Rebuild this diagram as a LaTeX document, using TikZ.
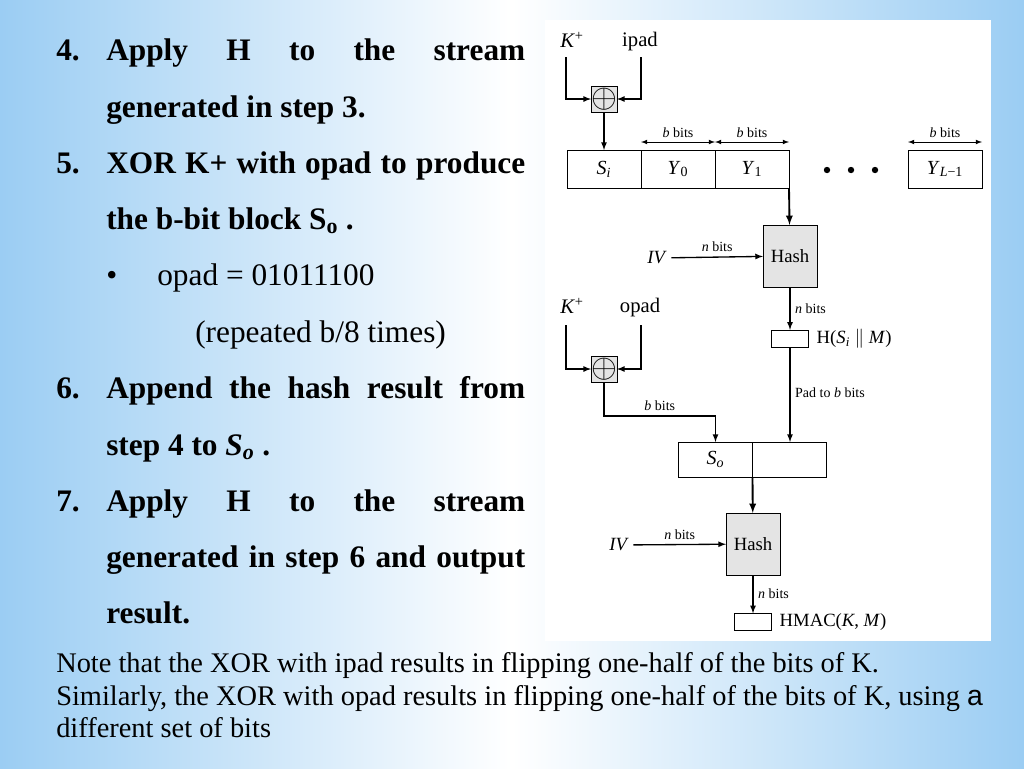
\documentclass[tikz,border=0pt]{standalone}
\usepackage{fontspec}
\setmainfont{Liberation Serif}
\newfontfamily\notesans{Liberation Sans}
\usetikzlibrary{positioning,calc}
\definecolor{slideblue}{RGB}{155,205,243}
\definecolor{hashgray}{RGB}{228,228,228}

\begin{document}
\begin{tikzpicture}[x=0.75pt,y=-0.75pt,
				block/.style={draw,rectangle,outer sep=0pt,inner sep=0pt,node distance=0pt,minimum width=55.5pt,minimum height=28.5pt,font=\fontsize{15}{17}\selectfont},
				xorbox/.style={draw,rectangle,fill=hashgray,outer sep=0pt,inner sep=0pt,minimum width=18pt,minimum height=19.5pt,font=\fontsize{25}{26}\selectfont},
				hashbox/.style={draw,rectangle,fill=hashgray,outer sep=0pt,minimum width=40.5pt,minimum height=46.5pt,font=\fontsize{14}{16}\selectfont},
				outbox/.style={draw,rectangle,outer sep=0pt,inner sep=0pt,minimum width=28pt,minimum height=13pt},
				keylbl/.style={font=\fontsize{15.5}{17}\selectfont},
				bitlbl/.style={font=\fontsize{10.5}{12}\selectfont},
				midlbl/.style={font=\fontsize{14}{16}\selectfont},
				item/.style={anchor=base west,inner sep=0pt,font=\fontsize{23.5}{28}\selectfont\bfseries},
				plain/.style={anchor=base west,inner sep=0pt,font=\fontsize{23.5}{28}\selectfont},
				note/.style={anchor=base west,inner sep=0pt,font=\fontsize{21.3}{25}\selectfont},
				arr/.style={-latex,line width=1pt},
				dimarr/.style={latex-latex,line width=0.6pt}]
				\useasboundingbox (0,0) rectangle (1024,768);
				\shade[left color=slideblue,right color=slideblue,middle color=white] (0,0) rectangle (1024,768);
				\fill[white] (545,20) rectangle (991,641);
				
				% steps on the left
				\node[item] (n4)  at (56,60)   {4.};
				\node[item] (s4a) at (106,60)  {\makebox[314.25pt][s]{Apply H to the stream}};
				\node[item] (s4b) at (106,117) {generated in step 3.};
				\node[item] (n5)  at (56,173)  {5.};
				\node[item] (s5a) at (106,173) {\makebox[314.25pt][s]{XOR K+ with opad to produce}};
				\node[item] (s5b) at (106,229) {the b-bit block S\textsubscript{o} .};
				\node[plain] (dot) at (106,285) {•};
				\node[plain] (opadval) at (157,285) {opad = 01011100};
				\node[plain] (rep) at (195,342) {(repeated b/8 times)};
				\node[item] (n6)  at (56,398)  {6.};
				\node[item] (s6a) at (106,398) {\makebox[314.25pt][s]{Append the hash result from}};
				\node[item] (s6b) at (106,455) {step 4 to \textit{S\textsubscript{o}} .};
				\node[item] (n7)  at (56,511)  {7.};
				\node[item] (s7a) at (106,511) {\makebox[314.25pt][s]{Apply H to the stream}};
				\node[item] (s7b) at (106,567) {\makebox[314.25pt][s]{generated in step 6 and output}};
				\node[item] (s7c) at (106,623) {result.};
				
				% note at the bottom
				\node[note] (nt1) at (56,672) {Note that the XOR with ipad results in flipping one-half of the bits of K.};
				\node[note] (nt2) at (56,705) {Similarly, the XOR with opad results in flipping one-half of the bits of K, using {\notesans a}};
				\node[note] (nt3) at (56,737) {different set of bits};
				
				% inner hash
				\node[keylbl] (kp1)   at (572,40) {\textit{K}\textsuperscript{+}};
				\node[keylbl] (ipad)  at (640,42) {ipad};
				\node[xorbox] (xor1)  at (604,99) {$\oplus$};
				\coordinate (kin1) at (566,57);
				\coordinate (pin1) at (641,57);
				\draw[arr] (kin1) |- (xor1.west);
				\draw[arr] (pin1) |- (xor1.east);
				
				\node[block] (si)    at (604,169)  {\textit{S\textsubscript{i}}};
				\node[block] (y0)    [right=of si] {\textit{Y}\textsubscript{0}};
				\node[block] (y1)    [right=of y0] {\textit{Y}\textsubscript{1}};
				\node[block] (ylast) at (945,169)  {\textit{Y}\textsubscript{\textit{L}−1}};
				\foreach \dx in {827,851,875}
					\fill (\dx,170) circle (2.4pt);
				\draw[arr] (xor1) -- (si);
				\draw[dimarr] ([yshift=6pt]y0.north west) -- ([yshift=6pt]y0.north east) node[bitlbl,midway,above] {\textit{b} bits};
				\draw[dimarr] ([yshift=6pt]y1.north west) -- ([yshift=6pt]y1.north east) node[bitlbl,midway,above] {\textit{b} bits};
				\draw[dimarr] ([yshift=6pt]ylast.north west) -- ([yshift=6pt]ylast.north east) node[bitlbl,midway,above] {\textit{b} bits};
				
				\node[hashbox] (hash1) at (790,256) {Hash};
				\node[midlbl] (iv1) at (657,258) {\textit{IV}};
				\draw[arr,line width=1.4pt] (y1.south east) -- (hash1);
				\draw[arr] (iv1) -- (hash1) node[bitlbl,midway,above] {\textit{n} bits};
				\node[outbox] (hout1) at (790,338.5) {};
				\node[midlbl,right=2.5pt of hout1] (hlab) {H(\textit{S\textsubscript{i}} $\Vert$ \textit{M})};
				\draw[arr] (hash1) -- (hout1) node[bitlbl,midway,right] {\textit{n} bits};
				
				% outer hash
				\node[keylbl] (kp2)  at (572,306) {\textit{K}\textsuperscript{+}};
				\node[keylbl] (opad) at (640,308) {opad};
				\node[xorbox] (xor2) at (604,369) {$\oplus$};
				\coordinate (kin2) at (566,325);
				\coordinate (pin2) at (641,325);
				\draw[arr] (kin2) |- (xor2.west);
				\draw[arr] (pin2) |- (xor2.east);
				
				\node[block,minimum height=26.25pt] (so1) at (715.5,459.5) {\textit{S\textsubscript{o}}};
				\node[block,minimum height=26.25pt] (so2) [right=of so1] {};
				\draw[arr] (xor2.south) -- ++(0,34) -| node[bitlbl,pos=0.25,above] {\textit{b} bits} (so1.north);
				\draw[arr] (hout1) -- (hout1 |- so2.north) node[bitlbl,pos=0.48,right] {Pad to \textit{b} bits};
				
				\node[hashbox] (hash2) at (753,544) {Hash};
				\node[midlbl] (iv2) at (619,545) {\textit{IV}};
				\draw[arr,line width=1.4pt] (so1.south east) -- (hash2);
				\draw[arr] (iv2) -- (hash2) node[bitlbl,midway,above] {\textit{n} bits};
				\node[outbox] (hout2) at (753,622) {};
				\node[midlbl,right=2.5pt of hout2] (hmac) {HMAC(\textit{K}, \textit{M})};
				\draw[arr] (hash2) -- (hout2) node[bitlbl,midway,right] {\textit{n} bits};
			\end{tikzpicture}
\end{document}
